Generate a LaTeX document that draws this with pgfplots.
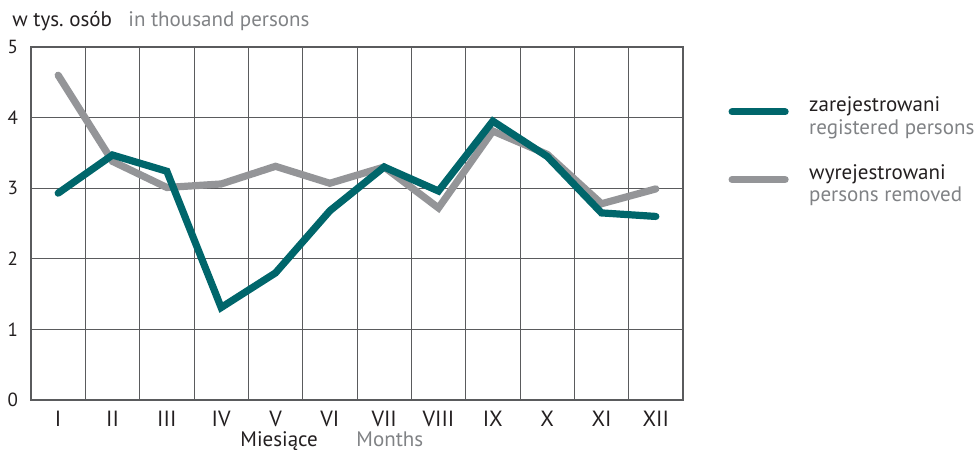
\documentclass[border=0pt]{standalone}
\usepackage{fontspec}
\setmainfont{PT Sans}
\usepackage{pgfplots}
\pgfplotsset{compat=1.18}
\definecolor{regcol}{HTML}{00666B}
\definecolor{remcol}{HTML}{949598}
\definecolor{txtgray}{HTML}{808285}
\definecolor{gridcol}{HTML}{5A5B5D}
\definecolor{txtblack}{HTML}{231F20}
\newcommand{\second}[1]{\rlap{\raisebox{-11.2pt}[0pt][0pt]{\textcolor{txtgray}{#1}}}}
\frenchspacing
\begin{document}
\begin{tikzpicture}[font=\fontsize{10.5}{12.6}\selectfont, color=txtblack]
\useasboundingbox (-15.5pt,-25pt) rectangle (472pt,200pt);
\begin{axis}[
  at={(0,0)}, anchor=south west,
  scale only axis, width=326pt, height=176.5pt,
  xmin=0.5, xmax=12.5, ymin=0, ymax=5,
  xtick={1,...,12},
  xticklabels={I,II,III,IV,V,VI,VII,VIII,IX,X,XI,XII},
  minor xtick={1.5,2.5,...,11.5},
  ytick={0,...,5},
  ymajorgrids, xminorgrids,
  major tick length=0pt, minor tick length=0pt,
  grid style={gridcol, line width=0.45pt},
  minor grid style={gridcol, line width=0.45pt},
  axis line style={gridcol, line width=0.6pt},
  /pgf/number format/assume math mode=true,
  xticklabel style={font=\fontsize{11}{13}\selectfont, yshift=-2pt, text=txtblack},
  yticklabel style={font=\fontsize{9.5}{11}\selectfont, xshift=-3pt, text=txtblack},
  clip=false,
  reverse legend,
  legend cell align=left,
  legend image code/.code={\draw[#1, line cap=round] (0pt,0pt) -- (26.5pt,0pt);},
  legend style={draw=none, fill=none, inner sep=0pt, outer sep=0pt,
    at={(rel axis cs:1.0698,0.8697)}, anchor=north west,
    row sep=20.9pt, column sep=8.25pt,
    cells={anchor=base west, inner sep=0pt},
    font=\fontsize{10.5}{11.2}\selectfont},
]
\addplot[remcol, line width=3.6pt, line cap=round] coordinates {
 (1,4.60) (2,3.38) (3,3.01) (4,3.06) (5,3.31) (6,3.07) (7,3.30) (8,2.72) (9,3.81) (10,3.48) (11,2.78) (12,2.99)};
\addlegendentry{\second{persons removed}wyrejestrowani}
\addplot[regcol, line width=3.6pt, line cap=round] coordinates {
 (1,2.93) (2,3.47) (3,3.24) (4,1.31) (5,1.80) (6,2.68) (7,3.30) (8,2.96) (9,3.95) (10,3.45) (11,2.65) (12,2.60)};
\addlegendentry{\second{registered persons}zarejestrowani}
\node[anchor=base west, inner sep=0pt] at (rel axis cs:0,1) [xshift=-9.5pt, yshift=10.5pt] {w tys. osób};
\node[anchor=base west, inner sep=0pt, text=txtgray] at (rel axis cs:0,1) [xshift=48.5pt, yshift=10.5pt] {in thousand persons};
\node[anchor=base west, inner sep=0pt] at (rel axis cs:0.3206,0) [yshift=-23.25pt] {Miesiące};
\node[anchor=base west, inner sep=0pt, text=txtgray] at (rel axis cs:0.4985,0) [yshift=-23.25pt] {Months};
\end{axis}
\end{tikzpicture}
\end{document}
